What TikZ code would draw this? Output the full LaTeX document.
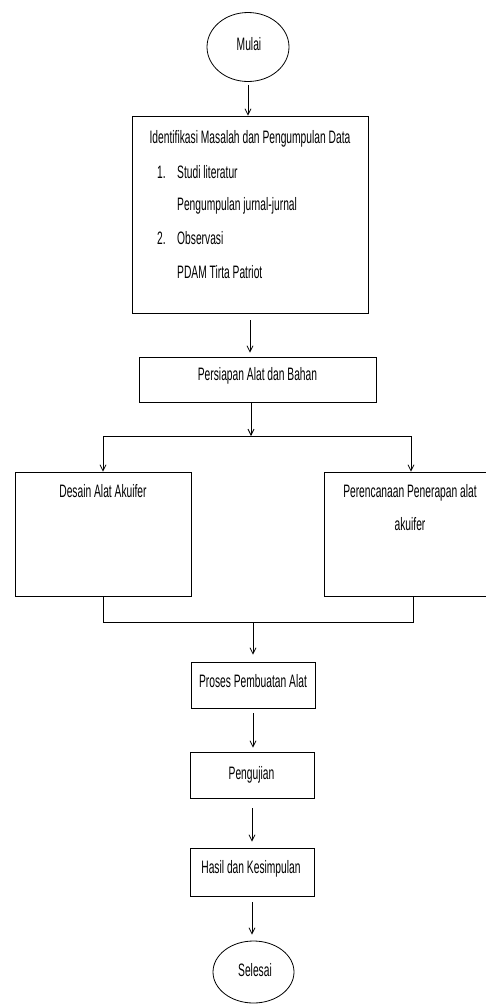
\documentclass[tikz,border=0pt]{standalone}
\usepackage{fontspec}
\setmainfont{Liberation Sans}[FakeStretch=0.57]
\usepackage{tikz}
\usetikzlibrary{shapes,arrows.meta,positioning,calc}

\tikzset{
  boxnode/.style={draw, line width=0.8pt, inner sep=0pt},
  endnode/.style={draw, ellipse, line width=0.8pt, inner sep=0pt},
  txt/.style={anchor=base, inner sep=0pt, font=\fontsize{18}{20}\selectfont},
  txtl/.style={txt, anchor=base west},
  arr/.style={-{Straight Barb[length=6pt,width=6pt]}, line width=0.8pt},
  ln/.style={line width=0.8pt}
}

\begin{document}
\begin{tikzpicture}[x=1pt, y=-1pt]
            \useasboundingbox (0,0) rectangle (486,1005);
            % Mulai
            \node[endnode, minimum width=82pt, minimum height=69pt] (mulai) at (248,47) {};
            \node[txt] (tmulai) at (249,50) {Mulai};

            % Identifikasi
            \node[boxnode, minimum width=236pt, minimum height=197pt] (ident) at (250,214.5) {};
            \node[txt] (tident) at (250,143) {Identifikasi Masalah dan Pengumpulan Data};
            \node[txtl] (n1) at (157,178) {1.};
            \node[txtl] (studi) at (177,178) {Studi literatur};
            \node[txtl] (jurnal) at (177,210) {Pengumpulan jurnal-jurnal};
            \node[txtl] (n2) at (157,244) {2.};
            \node[txtl] (obs) at (177,244) {Observasi};
            \node[txtl] (pdam) at (177,278) {PDAM Tirta Patriot};
            \draw[arr, shorten <=3pt] (mulai.south) -- (mulai.south |- ident.north);

            % Persiapan
            \node[boxnode, minimum width=237pt, minimum height=45pt] (persiapan) at (257.5,379.5) {};
            \node[txt] (tpersiapan) at (257.5,380) {Persiapan Alat dan Bahan};
            \draw[arr, shorten <=7pt, shorten >=4pt] (ident.south) -- (ident.south |- persiapan.north);

            % Cabang
            \coordinate (split) at (251,436);
            \node[boxnode, minimum width=176pt, minimum height=124pt] (desain) at (103,534) {};
            \node[txt] (tdesain) at (103,497) {Desain Alat Akuifer};
            \node[boxnode, minimum width=174pt, minimum height=124pt] (rencana) at (411,534) {};
            \node[txt] (trencana) at (410,497) {Perencanaan Penerapan alat};
            \node[txt] (takuifer) at (410,530) {akuifer};
            \draw[arr] (split |- persiapan.south) -- (split);
            \draw[arr] (split) -| (desain.north);
            \draw[arr] (split) -| (rencana.north);

            % Gabung
            \coordinate (merge) at (253,622);
            \draw[ln] (desain.south) |- (merge) -| ([xshift=2pt]rencana.south);

            % Proses
            \node[boxnode, minimum width=124pt, minimum height=46pt] (proses) at (253,685) {};
            \node[txt] (tproses) at (253,687) {Proses Pembuatan Alat};
            \draw[arr, shorten >=7pt] (merge) -- (proses.north);

            % Pengujian
            \node[boxnode, minimum width=124pt, minimum height=46pt] (uji) at (252,775) {};
            \node[txt] (tuji) at (251.5,779) {Pengujian};
            \draw[arr, shorten <=5pt, shorten >=4pt] (proses.south) -- (proses.south |- uji.north);

            % Hasil
            \node[boxnode, minimum width=124pt, minimum height=48pt] (hasil) at (252,872) {};
            \node[txt] (thasil) at (251,873) {Hasil dan Kesimpulan};
            \draw[arr, shorten <=10pt, shorten >=6pt] (uji.south) -- (uji.south |- hasil.north);

            % Selesai
            \node[endnode, minimum width=81pt, minimum height=62pt] (selesai) at (253.5,972) {};
            \node[txt] (tselesai) at (255,976) {Selesai};
            \draw[arr, shorten <=6pt, shorten >=6pt] (hasil.south) -- (hasil.south |- selesai.north);
        \end{tikzpicture}
\end{document}
